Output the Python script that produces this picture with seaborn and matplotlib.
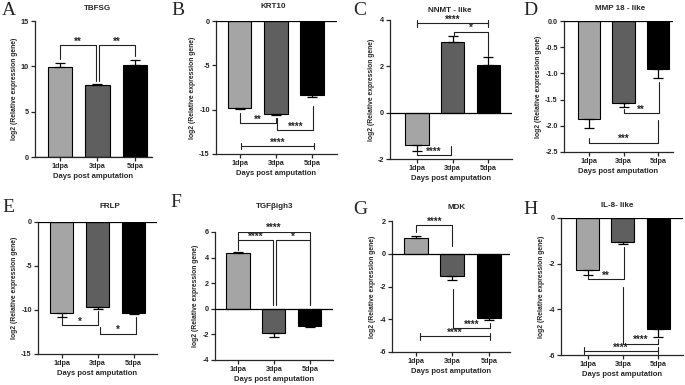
import matplotlib
matplotlib.use("Agg")
import matplotlib.pyplot as plt
import matplotlib.ticker as mticker
import numpy as np
import pandas as pd
import seaborn as sns

# ---------------- data ----------------
days = ["1dpa", "3dpa", "5dpa"]
letters = ["A", "B", "C", "D", "E", "F", "G", "H"]
genes = ["TBFSG", "KRT10", "NNMT - like", "MMP 18 - like",
         "FRLP", "TGFβigh3", "MDK", "IL-8- like"]

tbfsg_mean = [9.9, 7.95, 10.15]
tbfsg_err = [0.5, 0.15, 0.55]
krt10_mean = [-9.8, -10.5, -8.35]
krt10_err = [0.12, 0.1, 0.2]
nnmt_mean = [-1.4, 3.05, 2.05]
nnmt_err = [0.25, 0.25, 0.35]
mmp18_mean = [-1.87, -1.57, -0.91]
mmp18_err = [0.17, 0.08, 0.17]
frlp_mean = [-10.38, -9.62, -10.35]
frlp_err = [0.38, 0.25, 0.12]
tgfb_mean = [4.33, -1.92, -1.32]
tgfb_err = [0.13, 0.25, 0.1]
mdk_mean = [0.94, -1.33, -3.9]
mdk_err = [0.13, 0.27, 0.15]
il8_mean = [-2.28, -1.04, -4.85]
il8_err = [0.22, 0.08, 0.38]

means = [tbfsg_mean, krt10_mean, nnmt_mean, mmp18_mean,
         frlp_mean, tgfb_mean, mdk_mean, il8_mean]
errs = [tbfsg_err, krt10_err, nnmt_err, mmp18_err,
        frlp_err, tgfb_err, mdk_err, il8_err]

yticks = [[0, 5, 10, 15], [-15, -10, -5, 0], [-2, 0, 2, 4],
          [-2.5, -2.0, -1.5, -1.0, -0.5, 0.0], [-15, -10, -5, 0],
          [-4, -2, 0, 2, 4, 6], [-6, -4, -2, 0, 2], [-6, -4, -2, 0]]

# significance brackets: (x1, x2, y_line, leg1_end, leg2_end, label, style)
sig = [
    [(0, 0.95, 12.3, 10.8, 8.4, "**", "leg"), (1.03, 2, 12.3, 8.4, 11.1, "**", "leg")],
    [(0, 1, -11.5, -10.4, -10.9, "**", "leg"), (1.03, 2.03, -12.3, -10.9, -9.6, "****", "leg"),
     (0.03, 2.05, -14.1, None, None, "****", "cap")],
    [(0, 2, 3.86, None, None, "****", "cap"), (1.03, 2, 3.5, 3.3, 2.45, "*", "leg"),
     (0, 0.95, -1.83, -1.7, -1.45, "****", "leg")],
    [(1, 2.02, -1.76, -1.68, -1.16, "**", "leg"), (0, 2, -2.32, -2.24, -1.89, "***", "leg")],
    [(0.02, 1, -11.7, -10.9, -10.1, "*", "leg"), (1.06, 2.06, -12.7, -11.9, -10.8, "*", "leg")],
    [(0, 2, 6.02, 5.38, 0.3, "****", "leg"), (0, 0.98, 5.38, 4.6, 0.3, "****", "leg"),
     (1.07, 2, 5.38, 0.3, 0.3, "*", "leg")],
    [(0.02, 1, 1.76, 1.3, 0.5, "****", "leg"), (1.03, 2.03, -4.54, -2.16, -4.24, "****", "leg"),
     (0.12, 2.03, -5.05, None, None, "****", "cap")],
    [(0, 1.03, -2.69, -2.55, -1.26, "**", "leg"), (1.0, 2.0, -5.5, -3.0, -5.3, "****", "leg"),
     (-0.1, 2.0, -5.82, None, None, "****", "cap")],
]

# ---------------- layout ----------------
W, H = 685, 385
boxes = [(35, 21, 152, 157), (216, 21, 337, 154), (390, 20, 512, 159), (564, 21, 673, 152),
         (38, 222, 157, 354), (215, 232, 333, 360), (392, 221, 510, 352), (561, 218, 683, 355)]
xlims = [(-0.66, 2.45), (-0.65, 2.68), (-0.76, 2.67), (-0.72, 2.43),
         (-0.66, 2.65), (-0.64, 2.65), (-0.65, 2.58), (-0.75, 2.7)]
title_pos = [(97, 9), (273, 6), (450, 10), (620, 9), (110, 207), (275, 207), (457, 208), (617, 206)]
letter_pos = [(2, 2), (171, 2), (353, 2), (523, 2), (2, 199), (170, 194), (353, 201), (523, 201)]

sns.set_style("ticks")
plt.rcParams["font.family"] = ["Liberation Sans", "DejaVu Sans"]
plt.rcParams["axes.unicode_minus"] = False

palette = {"1dpa": "#a5a5a5", "3dpa": "#5f5f5f", "5dpa": "#000000"}
fig = plt.figure(figsize=(6.85, 3.85), dpi=100)

LW = 0.9
for k in range(8):
    l, t, r, b = boxes[k]
    ax = fig.add_axes([l / W, 1 - b / H, (r - l) / W, (b - t) / H])
    df = pd.DataFrame({"day": days, "val": means[k]})
    sns.barplot(data=df, x="day", y="val", hue="day", palette=palette, order=days,
                width=0.65, edgecolor="black", linewidth=0.8, legend=False, ax=ax,
                errorbar=None, zorder=2)
    m = np.array(means[k]); e = np.array(errs[k])
    lower = np.where(m < 0, e, 0.0)
    upper = np.where(m >= 0, e, 0.0)
    ax.errorbar(np.arange(3), m, yerr=[lower, upper], fmt="none", ecolor="black",
                elinewidth=LW, capsize=3.6, capthick=LW, zorder=3)
    yt = yticks[k]
    ax.set_ylim(min(yt), max(yt))
    ax.set_yticks(yt)
    if k == 3:
        ax.yaxis.set_major_formatter(mticker.FormatStrFormatter("%.1f"))
    else:
        ax.yaxis.set_major_formatter(mticker.FormatStrFormatter("%d"))
    ax.set_xlim(*xlims[k])
    ax.axhline(0, color="black", lw=LW, zorder=4)
    for s in ["top", "right"]:
        ax.spines[s].set_visible(False)
    for s in ["left", "bottom"]:
        ax.spines[s].set_linewidth(LW)
    ax.tick_params(axis="both", direction="out", length=3, width=LW, labelsize=5.2, pad=1.5)
    for lab in ax.get_xticklabels() + ax.get_yticklabels():
        lab.set_fontweight("bold")
    ax.set_xlabel("Days post amputation", fontsize=5.5, fontweight="bold", labelpad=2)
    ax.set_ylabel("log2 (Relative expression gene)", fontsize=4.9, fontweight="bold", labelpad=2)

    yr = max(yt) - min(yt)
    for (x1, x2, y, l1, l2, lab, style) in sig[k]:
        if style == "cap":
            ax.plot([x1, x2], [y, y], color="#222222", lw=0.8, zorder=5)
            h = 0.025 * yr
            for xx in (x1, x2):
                ax.plot([xx, xx], [y - h, y + h], color="#222222", lw=0.8, zorder=5)
        else:
            ax.plot([x1, x1, x2, x2], [l1, y, y, l2], color="#222222", lw=0.8, zorder=5)
        ax.annotate(lab, xy=((x1 + x2) / 2, y), xytext=(0, 0.3), textcoords="offset points",
                    ha="center", va="baseline", fontsize=7, fontweight="bold", zorder=6)

    tx, ty = title_pos[k]
    fig.text(tx / W, 1 - ty / H, genes[k], ha="center", va="center",
             fontsize=5.8, fontweight="bold")
    lx, ly = letter_pos[k]
    fig.text(lx / W, 1 - ly / H, letters[k], ha="left", va="top",
             fontsize=14, family=["Liberation Serif", "DejaVu Serif"])

fig.savefig("out.png", dpi=100)
